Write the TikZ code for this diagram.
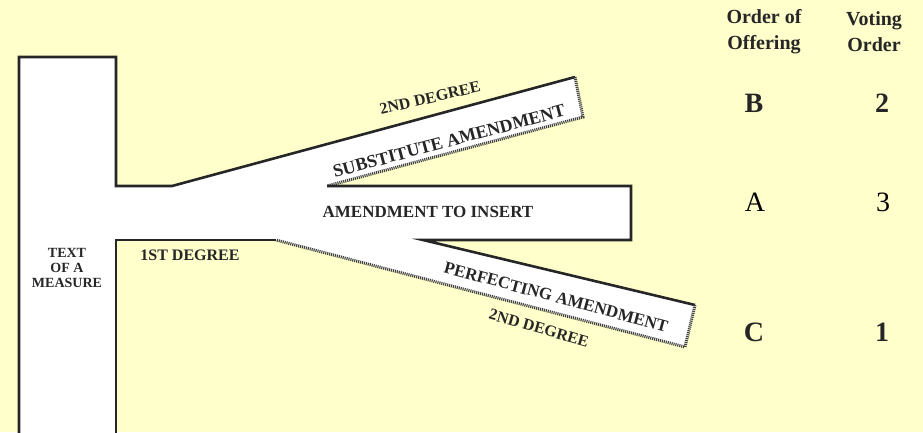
\documentclass[tikz,border=0pt]{standalone}
\usepackage{fontspec}
\setmainfont{Liberation Serif}
\begin{document}
\begin{tikzpicture}[x=1pt,y=-1pt,
  edge/.style={line width=2.6pt,draw=black!85,line join=miter},
  hatch/.style={line width=3pt,draw=black!75,dash pattern=on 1.1pt off 0.9pt},
  lbl/.style={font=\bfseries\fontsize{#1}{#1}\selectfont,inner sep=0pt,text=black!85},
  lbl/.default=15]
\fill[fill={rgb,255:red,255;green,255;blue,204}] (0,0) rectangle (923,432);
\useasboundingbox (0,0) rectangle (923,432);
% corner coordinates
\coordinate (tl) at (19,57);
\coordinate (tr) at (116,57);
\coordinate (au) at (116,186);
\coordinate (s1) at (172,186);
\coordinate (s2) at (575,77);
\coordinate (s3) at (583,117);
\coordinate (s4) at (327,186);
\coordinate (r1) at (631,186);
\coordinate (r2) at (631,240);
\coordinate (p1) at (423,240);
\coordinate (p2) at (695,305);
\coordinate (p3) at (685,347);
\coordinate (p4) at (276,240);
\coordinate (ad) at (116,240);
\coordinate (br) at (116,433);
\coordinate (bl) at (19,433);
% white body
\fill[white] (tl)--(tr)--(au)--(s1)--(s2)--(s3)--(s4)--(r1)--(r2)--(p1)--(p2)--(p3)--(p4)--(ad)--(br)--(bl)--cycle;
% outlines
\draw[edge] (bl)--(tl)--(tr)--(au)--(s1)--(s2);
\draw[hatch] (s2)--(s3)--(s4);
\draw[edge] (s4)--(r1)--(r2)--(p1)--(p2);
\draw[hatch] (p2)--(p3)--(p4);
\draw[edge] (p4)--(ad)--(br);
% labels in the shape
\node[lbl=14,align=center] (text) at (67,268) {TEXT\\[1pt]OF A\\[1pt]MEASURE};
\node[lbl=16] (first) at (190,255) {1ST DEGREE};
\node[lbl=17] (insert) at (428,212) {AMENDMENT TO INSERT};
\node[lbl=18,rotate=15] (subst) at (449,141) {SUBSTITUTE AMENDMENT};
\node[lbl=16,rotate=13] (deg2a) at (430,98) {2ND DEGREE};
\node[lbl=17,rotate=-15] (perf) at (556,297) {PERFECTING AMENDMENT};
\node[lbl=16,rotate=-16] (deg2b) at (539,328) {2ND DEGREE};
% table
\node[font=\bfseries\fontsize{20}{26}\selectfont,inner sep=0pt,text=black!85,align=center] (h1) at (764,32) {Order of\\Offering};
\node[font=\bfseries\fontsize{20}{26}\selectfont,inner sep=0pt,text=black!85,align=center] (h2) at (874,32) {Voting\\Order};
\node[lbl=28] (b) at (754,103) {B};
\node[lbl=28] (n2) at (882,103) {2};
\node[font=\fontsize{28}{28}\selectfont,inner sep=0pt] (a) at (755,202) {A};
\node[font=\fontsize{28}{28}\selectfont,inner sep=0pt] (n3) at (883,202) {3};
\node[lbl=28] (c) at (754,332) {C};
\node[lbl=28] (n1) at (882,332) {1};
\end{tikzpicture}
\end{document}
